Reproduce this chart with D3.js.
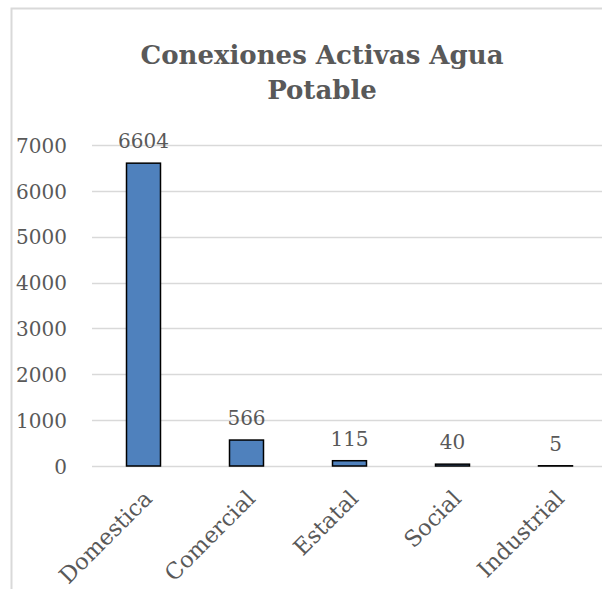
<!DOCTYPE html>
<html>
<head>
<meta charset="utf-8">
<script src="https://cdn.jsdelivr.net/npm/d3@7/dist/d3.min.js"></script>
<style>
  html, body { margin: 0; padding: 0; background: #fff; }
  svg { display: block; }
</style>
</head>
<body>
<svg id="chart" width="602" height="589"></svg>
<script>
const categories = ["Domestica", "Comercial", "Estatal", "Social", "Industrial"];
const values = [6604, 566, 115, 40, 5];
const yTicks = [0, 1000, 2000, 3000, 4000, 5000, 6000, 7000];
const title = ["Conexiones Activas Agua", "Potable"];

const FONT = "'DejaVu Serif', 'Liberation Serif', serif";
const TEXT = "#595959";
const svg = d3.select("#chart");

// frame
svg.append("path")
  .attr("d", "M11.5,600 L11.5,8.5 L610,8.5")
  .attr("fill", "none").attr("stroke", "#d9d9d9").attr("stroke-width", 2);

const x = d3.scaleBand().domain(categories).range([92, 607]).paddingInner(0.67).paddingOuter(0.335);
const y = d3.scaleLinear().domain([0, 7000]).range([466, 145]);

// gridlines
svg.append("g").selectAll("line").data(yTicks).join("line")
  .attr("x1", 92).attr("x2", 607)
  .attr("y1", d => Math.round(y(d)) + 0.5).attr("y2", d => Math.round(y(d)) + 0.5)
  .attr("stroke", "#d9d9d9").attr("stroke-width", 1.5);

// y axis labels
const yAxis = d3.axisLeft(y).tickValues(yTicks).tickFormat(d3.format("d")).tickSize(0).tickPadding(0);
const gy = svg.append("g").attr("transform", "translate(67,0)").call(yAxis);
gy.select(".domain").remove();
gy.selectAll("text").attr("font-family", FONT).attr("font-size", 20).attr("fill", TEXT).attr("dy", "0.36em");

// bars
svg.append("g").selectAll("rect").data(values).join("rect")
  .attr("x", (d, i) => x(categories[i]))
  .attr("width", x.bandwidth())
  .attr("y", d => y(d))
  .attr("height", d => y(0) - y(d))
  .attr("fill", "#4f81bd")
  .attr("stroke", "#000").attr("stroke-width", 1.5);

// data labels
svg.append("g").selectAll("text").data(values).join("text")
  .attr("x", (d, i) => x(categories[i]) + x.bandwidth() / 2)
  .attr("y", d => y(d) - 15)
  .attr("text-anchor", "middle")
  .attr("font-family", FONT).attr("font-size", 20).attr("fill", TEXT)
  .text(d => d);

// x axis labels
const xAxis = d3.axisBottom(x).tickSize(0).tickPadding(0);
const gx = svg.append("g").attr("transform", "translate(0,466)").call(xAxis);
gx.select(".domain").remove();
gx.selectAll("text")
  .attr("font-family", FONT).attr("font-size", 22.5).attr("fill", TEXT)
  .attr("text-anchor", "end")
  .attr("transform", "translate(10,34) rotate(-45)")
  .attr("dy", 0).attr("y", 0);

// title
svg.append("g").selectAll("text").data(title).join("text")
  .attr("x", 322).attr("y", (d, i) => 64 + i * 35)
  .attr("text-anchor", "middle")
  .attr("font-family", FONT).attr("font-weight", "bold").attr("font-size", 26).attr("fill", TEXT)
  .text(d => d);
</script>
</body>
</html>
